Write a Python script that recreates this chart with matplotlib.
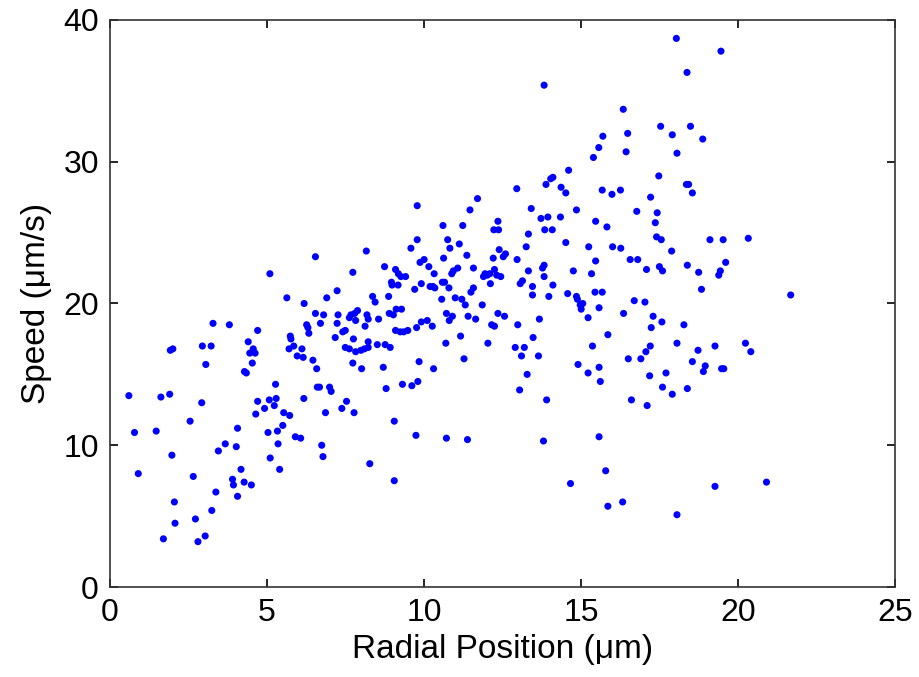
import matplotlib.pyplot as plt

plt.rcParams['font.family'] = ['Liberation Sans', 'DejaVu Sans']

# radial position (um) and speed (um/s)
radial_pos = [
    0.6, 0.78, 0.9, 1.47, 1.62, 1.7, 1.9, 1.92, 2.0, 1.97, 2.05, 2.07, 2.55, 2.65, 2.72, 2.8,
    2.92, 2.94, 3.05, 3.03, 3.22, 3.24, 3.28, 3.37, 3.45, 3.67, 3.8, 3.9, 3.93, 4.02, 4.06, 4.06,
    4.17, 4.27, 4.28, 4.34, 4.4, 4.45, 4.53, 4.5, 4.56, 4.62, 4.64, 4.7, 4.7, 4.92, 5.03, 5.07,
    5.1, 5.09, 5.23, 5.27, 5.29, 5.33, 5.35, 5.4, 5.53, 5.5, 5.63, 5.72, 5.7, 5.74, 5.76, 5.85,
    5.9, 5.96, 6.07, 6.11, 6.15, 6.17, 6.18, 6.26, 6.3, 6.33, 6.46, 6.54, 6.54, 6.58, 6.6, 6.67,
    6.7, 6.74, 6.8, 6.78, 6.86, 6.9, 6.99, 7.04, 7.17, 7.23, 7.23, 7.26, 7.38, 7.41, 7.49, 7.53,
    7.49, 7.62, 7.62, 7.67, 7.73, 7.73, 7.77, 7.75, 7.79, 7.82, 7.82, 7.88, 7.99, 8.01, 8.1, 8.16,
    8.12, 8.18, 8.22, 8.22, 8.22, 8.27, 8.36, 8.44, 8.51, 8.55, 8.7, 8.74, 8.76, 8.79, 8.87, 8.89,
    8.92, 8.96, 8.98, 9.02, 9.05, 9.05, 9.09, 9.09, 9.11, 9.17, 9.18, 9.24, 9.26, 9.28, 9.31, 9.35,
    9.41, 9.48, 9.58, 9.61, 9.7, 9.74, 9.76, 9.78, 9.78, 9.8, 9.84, 9.87, 9.91, 9.91, 10.0, 10.1,
    10.15, 10.19, 10.26, 10.28, 10.3, 10.32, 10.34, 10.56, 10.58, 10.6, 10.62, 10.65, 10.69, 10.71,
    10.71, 10.75, 10.79, 10.8, 10.82, 10.88, 10.9, 10.93, 10.99, 11.07, 11.12, 11.16, 11.2, 11.23,
    11.27, 11.31, 11.36, 11.38, 11.4, 11.46, 11.49, 11.57, 11.57, 11.64, 11.7, 11.85, 11.89, 11.94,
    12.01, 12.03, 12.09, 12.11, 12.15, 12.2, 12.22, 12.24, 12.24, 12.31, 12.35, 12.35, 12.37, 12.39,
    12.44, 12.52, 12.56, 12.59, 12.9, 12.95, 12.96, 12.98, 13.04, 13.06, 13.1, 13.13, 13.19, 13.25,
    13.28, 13.32, 13.32, 13.41, 13.45, 13.45, 13.47, 13.64, 13.67, 13.72, 13.77, 13.8, 13.82, 13.82,
    13.82, 13.84, 13.88, 13.9, 13.94, 13.97, 14.03, 14.08, 14.1, 14.1, 14.34, 14.36, 14.51, 14.51,
    14.57, 14.6, 14.66, 14.75, 14.85, 14.85, 14.88, 14.9, 14.97, 15.0, 15.05, 15.22, 15.22, 15.24,
    15.33, 15.36, 15.39, 15.44, 15.46, 15.46, 15.56, 15.57, 15.57, 15.57, 15.61, 15.67, 15.67, 15.69,
    15.78, 15.82, 15.85, 15.85, 15.98, 16.0, 16.25, 16.26, 16.32, 16.34, 16.35, 16.43, 16.48, 16.5,
    16.56, 16.6, 16.69, 16.77, 16.8, 16.9, 17.03, 17.06, 17.08, 17.1, 17.18, 17.2, 17.21, 17.23,
    17.29, 17.36, 17.4, 17.42, 17.47, 17.49, 17.53, 17.55, 17.57, 17.59, 17.59, 17.7, 17.88, 17.9,
    17.9, 18.03, 18.05, 18.05, 18.05, 18.27, 18.35, 18.37, 18.38, 18.38, 18.42, 18.48, 18.54, 18.54,
    18.72, 18.74, 18.83, 18.87, 18.89, 18.95, 19.1, 19.26, 19.26, 19.38, 19.43, 19.45, 19.47, 19.52,
    19.54, 19.6, 20.23, 20.32, 20.4, 20.9, 21.67,
]
speed = [
    13.5, 10.9, 8.0, 11.0, 13.4, 3.4, 13.6, 16.7, 16.8, 9.3, 6.0, 4.5, 11.7, 7.8, 4.8, 3.2,
    13.0, 17.0, 15.7, 3.6, 17.0, 5.4, 18.6, 6.7, 9.6, 10.1, 18.5, 7.6, 7.2, 9.9, 11.2, 6.4,
    8.3, 7.4, 15.2, 15.1, 17.3, 16.5, 15.8, 7.2, 16.8, 16.5, 12.2, 13.1, 18.1, 12.6, 10.9, 13.2,
    9.1, 22.1, 12.8, 14.3, 13.3, 11.0, 10.1, 8.3, 12.3, 11.4, 20.4, 12.1, 16.8, 17.7, 17.5, 17.0,
    10.6, 16.3, 10.5, 16.8, 16.2, 13.3, 20.0, 18.5, 18.3, 17.9, 16.0, 23.3, 19.3, 15.4, 14.1, 14.1,
    18.6, 10.0, 19.2, 9.2, 12.3, 20.4, 14.1, 13.8, 17.6, 20.9, 18.6, 19.2, 12.6, 18.0, 18.1, 13.1,
    16.9, 19.0, 16.8, 19.2, 22.2, 15.8, 12.3, 17.5, 19.3, 16.6, 18.8, 19.5, 16.7, 15.4, 16.8, 23.7,
    18.4, 19.2, 17.3, 16.9, 18.9, 8.7, 20.5, 20.1, 17.1, 18.9, 15.5, 22.6, 17.1, 14.0, 20.5, 19.3,
    16.9, 21.5, 21.3, 19.2, 7.5, 11.7, 22.4, 18.1, 19.6, 21.3, 22.1, 18.0, 21.9, 19.6, 14.3, 18.0,
    21.9, 18.1, 23.9, 14.2, 21.0, 10.7, 18.3, 24.5, 26.9, 14.5, 15.9, 22.9, 21.4, 18.7, 23.1, 18.8,
    22.6, 21.2, 18.4, 21.2, 15.4, 22.1, 21.1, 20.3, 21.5, 25.5, 23.2, 21.5, 17.2, 10.5,
    19.3, 24.5, 21.1, 18.8, 23.9, 22.1, 19.1, 22.3, 20.4, 22.5, 24.2, 17.7, 20.3, 25.5,
    16.1, 19.9, 23.4, 10.4, 19.1, 26.6, 20.8, 21.1, 22.5, 18.9, 27.4, 19.9, 21.9, 22.1,
    22.0, 17.2, 22.1, 21.4, 18.5, 23.2, 25.2, 22.4, 18.4, 22.0, 25.8, 19.3, 25.2, 23.8,
    21.9, 23.3, 19.1, 23.5, 16.9, 28.1, 23.1, 18.5, 13.9, 21.4, 16.3, 21.6, 16.9, 24.0,
    15.0, 24.9, 22.3, 26.7, 21.2, 20.6, 17.6, 16.3, 18.9, 26.0, 22.5, 10.3, 35.4, 21.9,
    22.7, 25.2, 28.4, 13.2, 26.1, 20.5, 28.8, 25.2, 28.9, 21.3, 26.1, 28.2, 24.3, 27.8,
    20.7, 29.4, 7.3, 22.3, 26.6, 20.5, 20.3, 15.7, 19.9, 19.6, 20.0, 19.0, 15.1, 24.0,
    22.1, 17.0, 30.3, 20.8, 25.8, 23.0, 31.0, 10.6, 19.7, 15.5, 14.5, 20.8, 28.0, 31.8,
    8.2, 25.4, 17.8, 5.7, 27.7, 24.0, 28.0, 23.9, 6.0, 33.7, 19.3, 30.7, 32.0, 16.1,
    23.1, 13.2, 20.2, 26.5, 23.1, 16.1, 20.1, 16.6, 22.4, 12.8, 14.9, 17.0, 27.5, 18.3,
    19.1, 25.7, 24.7, 26.4, 29.0, 22.6, 32.5, 24.5, 18.7, 22.3, 14.1, 15.1, 23.7, 13.6,
    31.9, 38.7, 17.2, 30.6, 5.1, 18.5, 28.4, 36.3, 14.0, 22.7, 28.4, 32.5, 27.8, 15.9,
    16.7, 22.2, 21.0, 31.6, 15.2, 15.6, 24.5, 7.1, 17.0, 22.0, 22.3, 37.8, 15.4, 24.5,
    15.4, 22.9, 17.2, 24.6, 16.6, 7.4, 20.6,
]

x_ticks = [0, 5, 10, 15, 20, 25]
y_ticks = [0, 10, 20, 30, 40]

fig = plt.figure(figsize=(9.19, 6.77), dpi=100)
ax = fig.add_axes([0.1197, 0.1329, 0.8545, 0.8376])

ax.scatter(radial_pos, speed, s=26, color='#0000ff', edgecolors='none')

ax.set_xlim(0, 25)
ax.set_ylim(0, 40)
ax.set_xticks(x_ticks)
ax.set_yticks(y_ticks)
ax.tick_params(direction='in', top=True, right=True, length=6, width=1.2,
               labelsize=23, pad=8)
for sp in ax.spines.values():
    sp.set_linewidth(1.2)
    sp.set_color('#333333')

ax.set_xlabel('Radial Position (μm)', fontsize=24, labelpad=4)
ax.set_ylabel('Speed (μm/s)', fontsize=24, labelpad=8)

plt.savefig('out.png', dpi=100)
